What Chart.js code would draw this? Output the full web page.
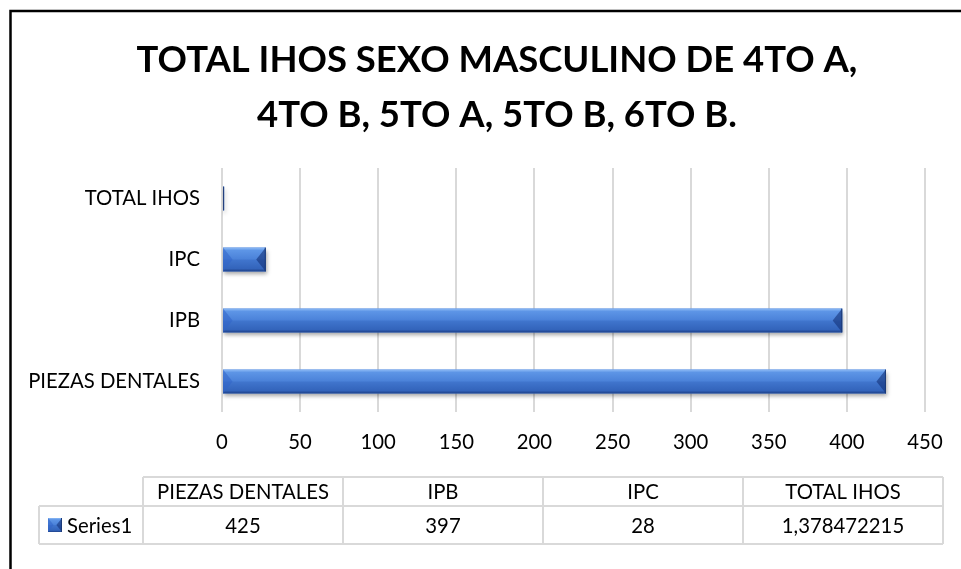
<!DOCTYPE html>
<html><head><meta charset="utf-8">
<script src="https://cdn.jsdelivr.net/npm/chart.js@4/dist/chart.umd.min.js"></script>
<style>html,body{margin:0;padding:0;background:#fff;}canvas{display:block;}</style>
</head><body>
<canvas id="c" width="961" height="569"></canvas>
<script>
// ---- data ----
const titleLines = ['TOTAL IHOS SEXO MASCULINO DE 4TO A,', '4TO B, 5TO A, 5TO B, 6TO B.'];
const categories = ['PIEZAS DENTALES', 'IPB', 'IPC', 'TOTAL IHOS'];
const seriesName = 'Series1';
const values = [425, 397, 28, 1.378472215];
const xTickLabels = [0, 50, 100, 150, 200, 250, 300, 350, 400, 450];

// ---- style ----
const FAMILY = 'Lato, "Open Sans", sans-serif';
function fit(text, weight, target) {
  const c = document.createElement('canvas').getContext('2d');
  c.font = weight + ' 100px ' + FAMILY;
  return 100 * target / c.measureText(text).width;
}
const labelSize = fit('PIEZAS DENTALES', 'normal', 172);
const titleSize = fit(titleLines[0], 'bold', 721);

function drawBevelBar(ctx, x0, x1, yc, h) {
  const y0 = yc - h / 2, y1 = yc + h / 2, w = x1 - x0;
  if (w <= 0) return;
  if (w < 4) {
    ctx.fillStyle = '#23407e'; ctx.fillRect(x0, y0, w, h);
    return;
  }
  const g = ctx.createLinearGradient(0, y0, 0, y1);
  g.addColorStop(0, '#8dbaf5'); g.addColorStop(0.12, '#5d95e6');
  g.addColorStop(0.48, '#4b82d9'); g.addColorStop(0.52, '#4075cd');
  g.addColorStop(0.88, '#3364bb'); g.addColorStop(1, '#1d4089');
  ctx.fillStyle = g; ctx.fillRect(x0, y0, w, h);
  const d = Math.min(h * 0.4, w / 2);
  ctx.beginPath(); ctx.moveTo(x0, y0); ctx.lineTo(x0 + d, yc); ctx.lineTo(x0, y1); ctx.closePath();
  ctx.fillStyle = 'rgba(50,100,200,0.55)'; ctx.fill();
  ctx.beginPath(); ctx.moveTo(x1, y0); ctx.lineTo(x1 - d, yc); ctx.lineTo(x1, y1); ctx.closePath();
  ctx.fillStyle = 'rgba(20,50,120,0.6)'; ctx.fill();
  ctx.fillStyle = '#1c3a78'; ctx.fillRect(x1 - 1, y0, 1, h);
}

const fmt = v => String(v).replace('.', ',');

const decor = {
  id: 'decor',
  beforeDatasetsDraw(chart) {
    const ctx = chart.ctx;
    ctx.save();
    ctx.shadowColor = 'rgba(0,0,0,0.35)';
    ctx.shadowBlur = 4; ctx.shadowOffsetX = 1; ctx.shadowOffsetY = 3;
  },
  afterDatasetsDraw(chart) {
    const ctx = chart.ctx;
    ctx.restore();
    const meta = chart.getDatasetMeta(0);
    meta.data.forEach(el => {
      const p = el.getProps(['x', 'y', 'base', 'height'], true);
      drawBevelBar(ctx, Math.min(p.base, p.x), Math.max(p.base, p.x), p.y, p.height);
    });
  },
  afterDraw(chart) {
    const ctx = chart.ctx;
    ctx.save();
    // frame
    ctx.strokeStyle = '#000'; ctx.lineWidth = 2.5;
    ctx.beginPath(); ctx.moveTo(10.5, 600); ctx.lineTo(10.5, 11); ctx.lineTo(1000, 11); ctx.stroke();
    // title
    ctx.fillStyle = '#000'; ctx.textAlign = 'center'; ctx.textBaseline = 'alphabetic';
    ctx.font = 'bold ' + titleSize + 'px ' + FAMILY;
    ctx.fillText(titleLines[0], 497, 72);
    ctx.fillText(titleLines[1], 497, 127);
    // data table
    const colX = [143, 343, 543, 743, 943];
    const rowY = [477, 506, 544];
    const legL = 39;
    ctx.strokeStyle = '#d9d9d9'; ctx.lineWidth = 2;
    ctx.beginPath();
    ctx.moveTo(colX[0], rowY[0]); ctx.lineTo(colX[4], rowY[0]);
    ctx.moveTo(legL, rowY[1]); ctx.lineTo(colX[4], rowY[1]);
    ctx.moveTo(legL, rowY[2]); ctx.lineTo(colX[4], rowY[2]);
    ctx.moveTo(legL, rowY[1]); ctx.lineTo(legL, rowY[2]);
    colX.forEach(x => { ctx.moveTo(x, rowY[0]); ctx.lineTo(x, rowY[2]); });
    ctx.stroke();
    ctx.font = labelSize + 'px ' + FAMILY;
    ctx.fillStyle = '#000'; ctx.textBaseline = 'middle'; ctx.textAlign = 'center';
    for (let i = 0; i < categories.length; i++) {
      const cx = (colX[i] + colX[i + 1]) / 2;
      ctx.fillText(categories[i], cx, (rowY[0] + rowY[1]) / 2 + 1);
      ctx.fillText(fmt(values[i]), cx, (rowY[1] + rowY[2]) / 2 + 1);
    }
    ctx.textAlign = 'left';
    ctx.fillText(seriesName, 67, (rowY[1] + rowY[2]) / 2 + 1);
    drawBevelBar(ctx, 48, 62, (rowY[1] + rowY[2]) / 2, 14);
    ctx.restore();
  }
};

new Chart(document.getElementById('c'), {
  type: 'bar',
  data: {
    labels: categories,
    datasets: [{
      label: seriesName, data: values, backgroundColor: '#4a80d8', borderWidth: 0,
      barPercentage: 0.39, categoryPercentage: 1
    }]
  },
  options: {
    responsive: false, animation: false, indexAxis: 'y', devicePixelRatio: 1,
    layout: { padding: { left: 0, right: 36, top: 168, bottom: 107 } },
    plugins: { legend: { display: false }, title: { display: false }, tooltip: { enabled: false } },
    scales: {
      x: {
        min: xTickLabels[0], max: xTickLabels[xTickLabels.length - 1],
        ticks: { stepSize: xTickLabels[1] - xTickLabels[0], color: '#000', font: { family: FAMILY, size: labelSize }, padding: 18 },
        grid: { color: '#d9d9d9', lineWidth: 2, drawTicks: false },
        border: { display: false },
        afterFit(s) { s.height = 50; }
      },
      y: {
        reverse: true,
        ticks: { color: '#000', font: { family: FAMILY, size: labelSize }, padding: 22 },
        grid: { display: false, drawTicks: false },
        border: { display: false },
        afterFit(s) { s.width = 222; }
      }
    }
  },
  plugins: [decor]
});
</script>
</body></html>
